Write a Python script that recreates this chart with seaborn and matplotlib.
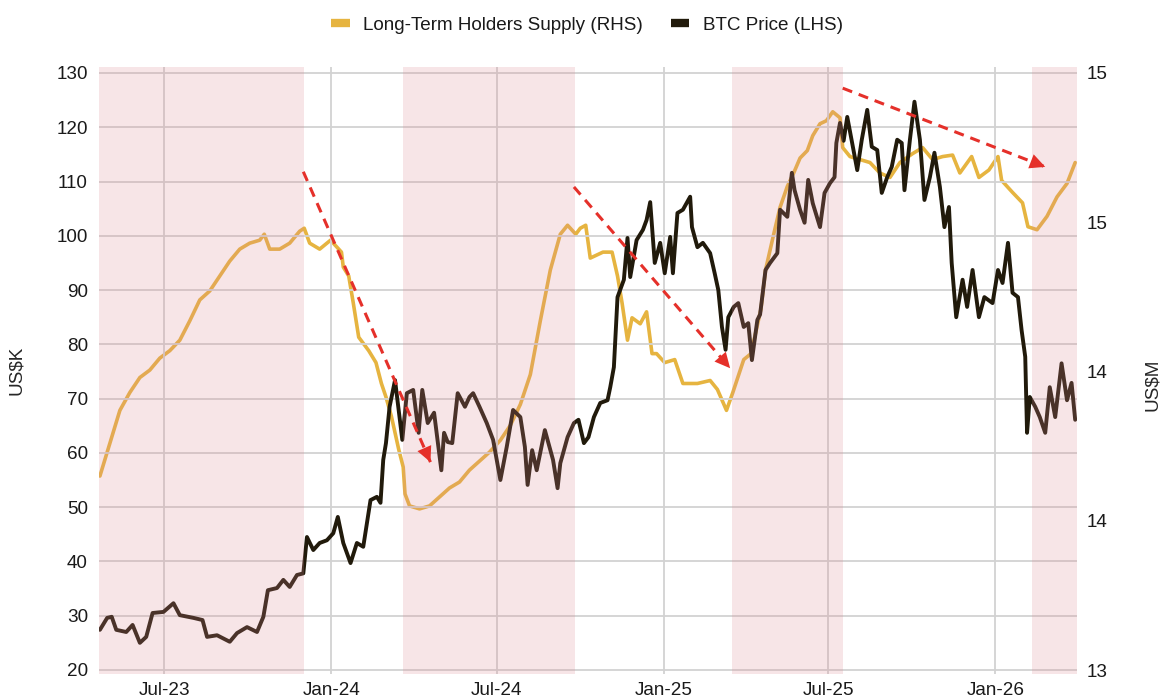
import pandas as pd
import numpy as np
import seaborn as sns
import matplotlib.pyplot as plt
import matplotlib.dates as mdates
from matplotlib.lines import Line2D

# BTC price, US$K (left axis)
btc_dates = [
    "2023-04-21", "2023-04-29", "2023-05-04", "2023-05-09", "2023-05-20", "2023-05-27",
    "2023-06-04", "2023-06-11", "2023-06-18", "2023-06-30", "2023-07-11", "2023-07-18",
    "2023-08-02", "2023-08-12", "2023-08-17", "2023-08-28", "2023-09-11", "2023-09-19",
    "2023-09-30", "2023-10-11", "2023-10-18", "2023-10-23", "2023-11-02", "2023-11-09",
    "2023-11-16", "2023-11-24", "2023-12-01", "2023-12-05", "2023-12-12", "2023-12-19",
    "2023-12-27", "2024-01-03", "2024-01-08", "2024-01-14", "2024-01-22", "2024-01-29",
    "2024-02-05", "2024-02-13", "2024-02-20", "2024-02-24", "2024-02-27", "2024-03-01",
    "2024-03-05", "2024-03-11", "2024-03-19", "2024-03-24", "2024-03-31", "2024-04-06",
    "2024-04-10", "2024-04-16", "2024-04-23", "2024-05-01", "2024-05-04", "2024-05-08",
    "2024-05-13", "2024-05-19", "2024-05-27", "2024-06-01", "2024-06-05", "2024-06-12",
    "2024-06-20", "2024-06-27", "2024-07-05", "2024-07-12", "2024-07-19", "2024-07-27",
    "2024-08-01", "2024-08-04", "2024-08-09", "2024-08-14", "2024-08-23", "2024-09-01",
    "2024-09-06", "2024-09-09", "2024-09-17", "2024-09-24", "2024-09-29", "2024-10-05",
    "2024-10-10", "2024-10-16", "2024-10-23", "2024-10-31", "2024-11-03", "2024-11-07",
    "2024-11-11", "2024-11-18", "2024-11-22", "2024-11-25", "2024-12-02", "2024-12-09",
    "2024-12-13", "2024-12-17", "2024-12-22", "2024-12-28", "2025-01-02", "2025-01-08",
    "2025-01-11", "2025-01-16", "2025-01-22", "2025-01-30", "2025-02-01", "2025-02-07",
    "2025-02-13", "2025-02-21", "2025-02-26", "2025-03-02", "2025-03-06", "2025-03-10",
    "2025-03-13", "2025-03-19", "2025-03-24", "2025-03-30", "2025-04-04", "2025-04-08",
    "2025-04-14", "2025-04-17", "2025-04-23", "2025-04-28", "2025-05-06", "2025-05-09",
    "2025-05-17", "2025-05-22", "2025-05-25", "2025-05-31", "2025-06-05", "2025-06-09",
    "2025-06-14", "2025-06-22", "2025-06-27", "2025-07-03", "2025-07-08", "2025-07-10",
    "2025-07-14", "2025-07-18", "2025-07-22", "2025-08-02", "2025-08-07", "2025-08-13",
    "2025-08-18", "2025-08-24", "2025-08-29", "2025-09-04", "2025-09-09", "2025-09-15",
    "2025-09-20", "2025-09-23", "2025-09-29", "2025-10-04", "2025-10-10", "2025-10-15",
    "2025-10-21", "2025-10-26", "2025-11-01", "2025-11-06", "2025-11-11", "2025-11-14",
    "2025-11-19", "2025-11-26", "2025-12-01", "2025-12-07", "2025-12-14", "2025-12-20",
    "2025-12-29", "2026-01-04", "2026-01-09", "2026-01-15", "2026-01-20", "2026-01-26",
    "2026-01-30", "2026-02-03", "2026-02-05", "2026-02-08", "2026-02-14", "2026-02-19",
    "2026-02-25", "2026-03-02", "2026-03-08", "2026-03-15", "2026-03-21", "2026-03-26",
    "2026-03-30",
]
btc_price = [
    27.4, 29.6, 29.8, 27.4, 27.0, 28.3,
    25.0, 26.1, 30.5, 30.7, 32.3, 30.1,
    29.6, 29.2, 26.1, 26.4, 25.2, 26.8,
    27.9, 27.0, 29.8, 34.7, 35.1, 36.6,
    35.3, 37.5, 37.8, 44.5, 42.1, 43.4,
    43.9, 45.2, 48.2, 43.4, 39.7, 43.4,
    42.7, 51.3, 51.9, 50.8, 58.7, 61.8,
    68.5, 73.4, 62.4, 71.0, 71.6, 63.7,
    71.6, 65.5, 67.4, 56.8, 63.7, 62.0,
    61.8, 71.0, 68.5, 70.3, 71.0, 68.5,
    65.5, 62.4, 55.0, 61.1, 67.9, 66.6,
    61.1, 54.1, 60.5, 56.8, 64.2, 58.7,
    53.5, 58.1, 62.9, 65.5, 66.1, 61.8,
    62.9, 66.6, 69.2, 69.7, 72.1, 75.8,
    88.7, 91.9, 99.6, 92.4, 99.2, 101.1,
    102.9, 106.2, 95.0, 98.7, 93.1, 99.8,
    93.1, 104.2, 104.8, 107.2, 101.6, 97.9,
    98.7, 96.8, 93.1, 90.0, 83.2, 79.0,
    85.0, 86.9, 87.6, 83.2, 83.9, 77.1,
    84.5, 85.5, 93.7, 95.0, 96.8, 104.8,
    103.5, 111.6, 108.4, 104.8, 102.4, 110.3,
    106.0, 101.6, 107.9, 109.7, 110.8, 117.1,
    120.8, 117.5, 121.9, 112.1, 117.7, 123.2,
    116.4, 115.8, 107.9, 110.8, 112.7, 117.7,
    117.1, 108.4, 117.7, 124.7, 117.7, 106.6,
    110.8, 115.3, 109.0, 101.6, 105.3, 95.0,
    85.0, 91.9, 86.9, 93.7, 85.0, 88.7,
    87.6, 93.7, 91.3, 98.7, 89.5, 88.7,
    82.6, 77.7, 63.7, 70.3, 68.5, 66.6,
    63.7, 72.1, 66.6, 76.5, 69.7, 72.9,
    66.1,
]

# Long-term holders supply, million BTC (right axis)
lth_dates = [
    "2023-04-21", "2023-05-03", "2023-05-13", "2023-05-24", "2023-06-04", "2023-06-15",
    "2023-06-26", "2023-07-07", "2023-07-18", "2023-07-29", "2023-08-09", "2023-08-20",
    "2023-08-31", "2023-09-11", "2023-09-22", "2023-10-03", "2023-10-14", "2023-10-19",
    "2023-10-25", "2023-11-05", "2023-11-16", "2023-11-27", "2023-12-02", "2023-12-08",
    "2023-12-19", "2023-12-31", "2024-01-12", "2024-01-14", "2024-01-20", "2024-01-25",
    "2024-01-31", "2024-02-11", "2024-02-19", "2024-02-25", "2024-03-01", "2024-03-07",
    "2024-03-15", "2024-03-20", "2024-03-22", "2024-03-27", "2024-04-07", "2024-04-18",
    "2024-04-29", "2024-05-10", "2024-05-21", "2024-06-01", "2024-06-12", "2024-06-23",
    "2024-07-05", "2024-07-16", "2024-07-27", "2024-08-07", "2024-08-18", "2024-08-29",
    "2024-09-09", "2024-09-17", "2024-09-26", "2024-10-01", "2024-10-07", "2024-10-12",
    "2024-10-26", "2024-11-05", "2024-11-11", "2024-11-16", "2024-11-22", "2024-11-27",
    "2024-12-06", "2024-12-13", "2024-12-19", "2024-12-24", "2025-01-02", "2025-01-13",
    "2025-01-22", "2025-02-07", "2025-02-21", "2025-03-01", "2025-03-11", "2025-03-18",
    "2025-03-30", "2025-04-07", "2025-04-18", "2025-04-23", "2025-05-02", "2025-05-09",
    "2025-05-17", "2025-05-24", "2025-05-31", "2025-06-08", "2025-06-14", "2025-06-22",
    "2025-06-29", "2025-07-06", "2025-07-14", "2025-07-17", "2025-07-25", "2025-08-05",
    "2025-08-16", "2025-08-27", "2025-09-07", "2025-09-18", "2025-10-02", "2025-10-13",
    "2025-10-24", "2025-11-04", "2025-11-15", "2025-11-23", "2025-12-06", "2025-12-14",
    "2025-12-25", "2026-01-04", "2026-01-08", "2026-01-20", "2026-01-31", "2026-02-06",
    "2026-02-16", "2026-02-27", "2026-03-10", "2026-03-21", "2026-03-30",
]
lth_supply = [
    13.65, 13.77, 13.87, 13.93, 13.98, 14.005,
    14.045, 14.07, 14.105, 14.17, 14.24, 14.27,
    14.32, 14.37, 14.41, 14.43, 14.44, 14.46,
    14.41, 14.41, 14.43, 14.47, 14.48, 14.43,
    14.41, 14.44, 14.40, 14.35, 14.32, 14.23,
    14.115, 14.07, 14.03, 13.96, 13.915, 13.85,
    13.74, 13.68, 13.59, 13.55, 13.54, 13.55,
    13.58, 13.61, 13.63, 13.67, 13.70, 13.73,
    13.77, 13.82, 13.89, 13.99, 14.17, 14.34,
    14.46, 14.49, 14.46, 14.48, 14.49, 14.38,
    14.40, 14.40, 14.32, 14.23, 14.105, 14.18,
    14.16, 14.20, 14.06, 14.06, 14.03, 14.04,
    13.96, 13.96, 13.97, 13.94, 13.87, 13.93,
    14.04, 14.06, 14.21, 14.34, 14.46, 14.55,
    14.62, 14.665, 14.715, 14.74, 14.79, 14.83,
    14.84, 14.87, 14.85, 14.75, 14.72, 14.71,
    14.70, 14.665, 14.65, 14.70, 14.73, 14.75,
    14.71, 14.72, 14.725, 14.665, 14.72, 14.65,
    14.675, 14.72, 14.64, 14.60, 14.565, 14.485,
    14.475, 14.52, 14.585, 14.63, 14.70,
]

# shaded periods
shade_starts = ["2023-04-20", "2024-03-20", "2025-03-17", "2026-02-10"]
shade_ends = ["2023-12-02", "2024-09-25", "2025-07-17", "2026-04-01"]

# red trend arrows (left-axis units)
arrow_x0 = ["2023-12-01", "2024-09-24", "2025-07-17"]
arrow_y0 = [111.8, 109.0, 127.2]
arrow_x1 = ["2024-04-19", "2025-03-15", "2026-02-25"]
arrow_y1 = [58.3, 75.6, 112.7]

right_ticks = [13, 13.5, 14, 14.5, 15]
right_labels = ["13", "14", "14", "15", "15"]
left_ticks = [20, 30, 40, 50, 60, 70, 80, 90, 100, 110, 120, 130]

yellow = "#E6B440"
dark = "#211A0B"
red = "#E5302A"
fs = 13.6

sns.set_theme(style="white")
plt.rcParams['font.family'] = ['Liberation Sans', 'DejaVu Sans']
plt.rcParams['text.color'] = '#1a1a1a'

fig = plt.figure(figsize=(11.63, 6.98), dpi=100)
ax = fig.add_axes([99 / 1163, 1 - 674 / 698, 978 / 1163, 607 / 698])
ax2 = ax.twinx()
ax.set_zorder(ax2.get_zorder() + 1)
ax.patch.set_visible(False)

sns.lineplot(x=pd.to_datetime(lth_dates), y=lth_supply, ax=ax2, color=yellow, linewidth=2.6)
sns.lineplot(x=pd.to_datetime(btc_dates), y=btc_price, ax=ax, color=dark, linewidth=2.8, zorder=2)

for s, e in zip(shade_starts, shade_ends):
    ax.axvspan(pd.Timestamp(s), pd.Timestamp(e), color="#DC8A94", alpha=0.22, lw=0, zorder=3)

for x0, y0, x1, y1 in zip(arrow_x0, arrow_y0, arrow_x1, arrow_y1):
    p0, p1 = pd.Timestamp(x0), pd.Timestamp(x1)
    ax.plot([p0, p1], [y0, y1], color=red, lw=2.2, dashes=(3.3, 2.3), zorder=4)
    ax.annotate("", xy=(p1, y1), xytext=(p0, y0),
                arrowprops=dict(arrowstyle="-|>,head_length=0.55,head_width=0.27",
                                mutation_scale=20, color=red, lw=0,
                                shrinkA=0, shrinkB=0), zorder=5)

ax.set_xlim(pd.Timestamp("2023-04-20"), pd.Timestamp("2026-04-01"))
ax.set_ylim(19.26, 131.1)
ax2.set_ylim(12.987, 15.02)

ax.set_yticks(left_ticks)
ax2.set_yticks(right_ticks)
ax2.set_yticklabels(right_labels)

ax.xaxis.set_major_locator(mdates.MonthLocator(bymonth=[1, 7]))
ax.xaxis.set_major_formatter(mdates.DateFormatter('%b-%y'))

ax.grid(True, color="#d2d2d2", lw=1.3)
ax2.grid(False)
ax.tick_params(axis='both', length=0, labelsize=fs, pad=8, labelcolor='#1a1a1a')
ax.tick_params(axis='x', pad=6)
ax2.tick_params(axis='y', length=0, labelsize=fs, pad=7, labelcolor='#1a1a1a')

for a in (ax, ax2):
    for sp in a.spines.values():
        sp.set_visible(False)

ax.set_xlabel("")
ax.set_ylabel("US$K", fontsize=fs)
ax.yaxis.set_label_coords(-0.0755, 0.5)
ax2.set_ylabel("US$M", fontsize=fs, rotation=90)
ax2.yaxis.set_label_coords(1.069, 0.476)

handles = [Line2D([0], [0], color=yellow, lw=6, solid_capstyle='butt'),
           Line2D([0], [0], color=dark, lw=6, solid_capstyle='butt')]
fig.legend(handles, ["Long-Term Holders Supply (RHS)", "BTC Price (LHS)"],
           loc='center', bbox_to_anchor=(587 / 1163, 1 - 25 / 698), ncol=2,
           frameon=False, fontsize=fs, handlelength=1.0, handletextpad=0.7,
           columnspacing=1.45)

fig.savefig("out.png", dpi=100, facecolor="white")
